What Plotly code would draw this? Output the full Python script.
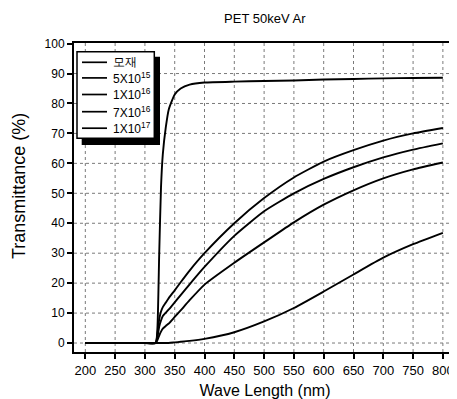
import plotly.graph_objects as go

# ---- data ----
wavelength = [200, 250, 300, 318, 321, 324, 327, 330, 335, 340, 350, 360, 375,
              400, 450, 500, 550, 600, 650, 700, 750, 800]

series_names = ["모재", "5X10<sup>15</sup>", "1X10<sup>16</sup>",
                "7X10<sup>16</sup>", "1X10<sup>17</sup>"]

t_base = [0, 0, 0, 0, 5, 30, 52, 63, 72, 78, 83, 85, 86.3,
          87, 87.3, 87.5, 87.7, 88, 88.2, 88.4, 88.5, 88.6]
t_5e15 = [0, 0, 0, 0, 3, 8, 10.5, 12, 13.5, 15, 17.6, 20.3, 24.2,
          30, 40, 48.4, 55.3, 60.6, 64.4, 67.6, 70.0, 71.8]
t_1e16 = [0, 0, 0, 0, 2, 5.5, 7.5, 9, 10.1, 11.2, 13.6, 16.0, 19.6,
          25.4, 35.8, 44.0, 50.0, 54.8, 58.7, 62.0, 64.6, 66.7]
t_7e16 = [0, 0, 0, 0, 1, 2.5, 3.8, 4.8, 5.7, 6.5, 8.7, 10.9, 14.3,
          19.5, 26.8, 33.6, 40.3, 46.2, 51.0, 55.0, 58.0, 60.3]
t_1e17 = [0, 0, 0, 0, 0, 0, 0, 0, 0, 0, 0.2, 0.4, 0.7,
          1.4, 3.6, 7.2, 11.7, 17.2, 22.9, 28.5, 33.0, 36.8]

x_ticks = [200, 250, 300, 350, 400, 450, 500, 550, 600, 650, 700, 750, 800]
y_ticks = [0, 10, 20, 30, 40, 50, 60, 70, 80, 90, 100]

all_series = [t_base, t_5e15, t_1e16, t_7e16, t_1e17]

FONT = "Liberation Sans, Arial, sans-serif"

fig = go.Figure()
for name, vals in zip(series_names, all_series):
    fig.add_trace(go.Scatter(x=wavelength, y=vals, mode="lines", name=name,
                             showlegend=False,
                             line=dict(color="black", width=1.9, shape="spline",
                                       smoothing=0.5)))

# dotted gridlines at the tick values
for xv in x_ticks:
    fig.add_shape(type="line", xref="x", yref="paper", x0=xv, x1=xv, y0=0, y1=1,
                  line=dict(color="#7a7a7a", width=1, dash="dot"), layer="below")
for yv in y_ticks[:-1]:
    fig.add_shape(type="line", xref="paper", yref="y", x0=0, x1=1, y0=yv, y1=yv,
                  line=dict(color="#7a7a7a", width=1, dash="dot"), layer="below")

# ---- legend box with drop shadow (paper coordinates of the plot area) ----
PLOT_W, PLOT_H = 382.0, 309.0
def px(dx):   # pixels from plot left -> paper x
    return dx / PLOT_W
def py(dy):   # pixels from plot top -> paper y
    return 1 - dy / PLOT_H

fig.add_shape(type="rect", xref="paper", yref="paper",
              x0=px(7.7), x1=px(86), y0=py(102), y1=py(13.7),
              fillcolor="black", line=dict(width=0), layer="above")
fig.add_shape(type="rect", xref="paper", yref="paper",
              x0=px(3), x1=px(80.3), y0=py(95.3), y1=py(8.7),
              fillcolor="white", line=dict(color="black", width=1.5), layer="above")
row_offsets = [19.3, 34.9, 51.5, 68.7, 85.2]
for name, dy in zip(series_names, row_offsets):
    fig.add_shape(type="line", xref="paper", yref="paper",
                  x0=px(8), x1=px(33), y0=py(dy), y1=py(dy),
                  line=dict(color="black", width=1.7), layer="above")
    fig.add_annotation(xref="paper", yref="paper", x=px(37), y=py(dy),
                       xanchor="left", yanchor="middle", showarrow=False,
                       text=name, font=dict(size=12, family=FONT, color="black"))

# y-axis title (placed slightly above centre, as in the reference)
fig.add_annotation(xref="paper", yref="paper", x=px(-55), y=py(143),
                   xanchor="center", yanchor="middle", showarrow=False,
                   textangle=-90, text="Transmittance (%)", borderpad=0,
                   font=dict(size=18, family=FONT, color="black"))

fig.update_layout(
    width=449, height=391,
    margin=dict(l=66, r=1, t=35, b=47),
    paper_bgcolor="white", plot_bgcolor="white",
    font=dict(family=FONT, size=12, color="black"),
    title=dict(text="PET 50keV Ar", x=0.572, xanchor="center", y=0.972,
               yanchor="middle", font=dict(size=13, family=FONT, color="black")),
    showlegend=False,
    xaxis=dict(range=[181, 822], tickvals=x_ticks, showgrid=False,
               showline=True, linecolor="black", linewidth=2, mirror=True,
               ticks="outside", ticklen=5, tickwidth=1.5, tickcolor="black",
               zeroline=False, automargin=False,
               title=dict(text="Wave Length (nm)", font=dict(size=16), standoff=8),
               tickfont=dict(size=13)),
    yaxis=dict(range=[-3, 100.2], tickvals=y_ticks, showgrid=False,
               showline=True, linecolor="black", linewidth=2, mirror=False,
               ticks="outside", ticklen=5, tickwidth=1.5, tickcolor="black",
               zeroline=False, automargin=False,
               tickfont=dict(size=12)),
)

fig.write_html("out.html")
